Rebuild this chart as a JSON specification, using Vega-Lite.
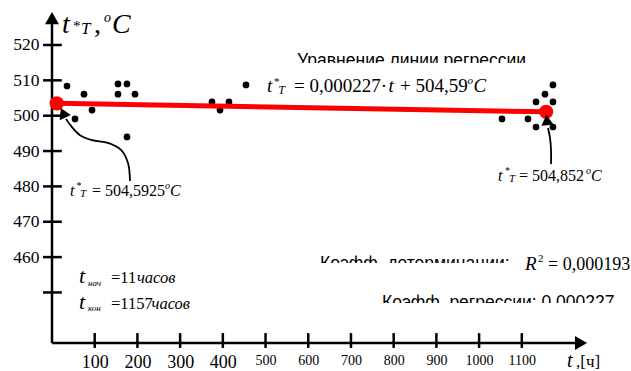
{
  "$schema": "https://vega.github.io/schema/vega-lite/v6.json",
  "width": 536,
  "height": 333,
  "autosize": {"type": "none"},
  "padding": {"left": 52, "top": 10, "right": 43, "bottom": 28},
  "background": "white",
  "config": {"view": {"stroke": null}, "text": {"font": "Liberation Serif"}},
  "data": {"values": [{}]},
  "layer": [
    {
      "data": {"name": "obs", "values": [
        {"t": 35.1, "temp": 508.4}, {"t": 53.9, "temp": 499.1}, {"t": 74.9, "temp": 506.1},
        {"t": 93.7, "temp": 501.6}, {"t": 154.5, "temp": 509.0}, {"t": 154.5, "temp": 506.1},
        {"t": 175.6, "temp": 509.0}, {"t": 175.6, "temp": 494.0}, {"t": 194.3, "temp": 506.1},
        {"t": 374.6, "temp": 503.9}, {"t": 393.4, "temp": 501.6}, {"t": 414.4, "temp": 503.9},
        {"t": 454.2, "temp": 508.7}, {"t": 1053.6, "temp": 499.1}, {"t": 1114.5, "temp": 499.1},
        {"t": 1133.3, "temp": 503.9}, {"t": 1133.3, "temp": 496.8}, {"t": 1154.3, "temp": 506.1},
        {"t": 1173.0, "temp": 508.7}, {"t": 1173.0, "temp": 503.9}, {"t": 1173.0, "temp": 496.8}
      ]},
      "mark": {"type": "circle", "color": "#000", "opacity": 1, "size": 45},
      "encoding": {
        "x": {"field": "t", "type": "quantitative",
          "scale": {"domain": [0, 1255], "nice": false, "zero": false},
          "axis": {"title": null, "values": [100, 200, 300, 400, 500, 600, 700, 800, 900, 1000, 1100], "format": "d",
            "domain": false, "ticks": false, "tickSize": 0, "grid": false,
            "labelFont": "Liberation Serif", "labelColor": "#000",
            "labelFontSize": {"condition": {"test": "datum.value <= 400", "value": 18}, "value": 14},
            "labelPadding": 10, "labelFlush": false, "labelOverlap": false, "labelBound": false}},
        "y": {"field": "temp", "type": "quantitative",
          "scale": {"domain": [435.7, 529.9], "nice": false, "zero": false},
          "axis": {"title": null, "values": [460, 470, 480, 490, 500, 510, 520], "format": "d",
            "domain": false, "ticks": false, "tickSize": 0, "grid": false,
            "labelFont": "Liberation Serif", "labelColor": "#000", "labelFontSize": 17.5,
            "labelPadding": 13, "labelFlush": false, "labelOverlap": false, "labelBound": false}}
      }
    },
    {"mark": {"type": "text", "align": "left", "baseline": "alphabetic", "font": "Liberation Sans", "fontSize": 17.5, "text": "Уравнение линии регрессии"},
     "encoding": {"x": {"datum": 573.6}, "y": {"datum": 514.2}}},
    {"mark": {"type": "text", "align": "left", "baseline": "alphabetic", "font": "Liberation Sans", "fontSize": 17.5, "text": "Коэфф. детерминации:"},
     "encoding": {"x": {"datum": 627.5}, "y": {"datum": 456.5}}},
    {"mark": {"type": "text", "align": "left", "baseline": "alphabetic", "font": "Liberation Sans", "fontSize": 17.5, "text": "Коэфф. регрессии: 0,000227"},
     "encoding": {"x": {"datum": 772.7}, "y": {"datum": 445.7}}},
    {"mark": {"type": "rect", "color": "white"},
     "encoding": {"x": {"datum": 557}, "x2": {"datum": 1117}, "y": {"datum": 514.9}, "y2": {"datum": 512.4}}},
    {"mark": {"type": "rect", "color": "white"},
     "encoding": {"x": {"datum": 608.8}, "x2": {"datum": 1077.4}, "y": {"datum": 458.3}, "y2": {"datum": 455.5}}},
    {"mark": {"type": "rect", "color": "white"},
     "encoding": {"x": {"datum": 756.3}, "x2": {"datum": 1355.7}, "y": {"datum": 447.0}, "y2": {"datum": 444.2}}},
    {"mark": {"type": "rule", "color": "#000", "strokeWidth": 2.5},
     "encoding": {"x": {"datum": 0}, "x2": {"datum": 1225}, "y": {"datum": 435.7}}},
    {"mark": {"type": "rule", "color": "#000", "strokeWidth": 2.5},
     "encoding": {"x": {"datum": 0}, "y": {"datum": 435.7}, "y2": {"datum": 526}}},
    {"data": {"values": [{"v": 450}, {"v": 460}, {"v": 470}, {"v": 480}, {"v": 490}, {"v": 500}, {"v": 510}, {"v": 520}]},
     "mark": {"type": "rule", "color": "#000", "strokeWidth": 2.5},
     "encoding": {"y": {"field": "v", "type": "quantitative"}, "x": {"datum": -21}, "x2": {"datum": 23}}},
    {"data": {"values": [{"v": 100}, {"v": 200}, {"v": 300}, {"v": 400}, {"v": 500}, {"v": 600}, {"v": 700}, {"v": 800}, {"v": 900}, {"v": 1000}, {"v": 1100}]},
     "mark": {"type": "rule", "color": "#000", "strokeWidth": 2.5},
     "encoding": {"x": {"field": "v", "type": "quantitative"}, "y": {"datum": 438.5}, "y2": {"datum": 434.3}}},
    {"mark": {"type": "point", "shape": "triangle-up", "filled": true, "color": "#000", "opacity": 1, "size": 196},
     "encoding": {"x": {"datum": 0}, "y": {"datum": 527.6}}},
    {"mark": {"type": "point", "shape": "triangle-right", "filled": true, "color": "#000", "opacity": 1, "size": 196},
     "encoding": {"x": {"datum": 1238.6}, "y": {"datum": 435.7}}},
    {"data": {"values": [{"t": 11, "temp": 503.5}, {"t": 1157, "temp": 501.1}]},
     "mark": {"type": "line", "color": "#ff0000", "strokeWidth": 5},
     "encoding": {"x": {"field": "t", "type": "quantitative"}, "y": {"field": "temp", "type": "quantitative"}}},
    {"data": {"values": [{"t": 11, "temp": 503.5}, {"t": 1157, "temp": 501.1}]},
     "mark": {"type": "circle", "color": "#ff0000", "opacity": 1, "size": 205},
     "encoding": {"x": {"field": "t", "type": "quantitative"}, "y": {"field": "temp", "type": "quantitative"}}},
    {"data": {"values": [
        {"o": 1, "t": 182.6, "temp": 481.5}, {"o": 2, "t": 178.0, "temp": 486.6}, {"o": 3, "t": 161.6, "temp": 490.3},
        {"o": 4, "t": 131.1, "temp": 492.3}, {"o": 5, "t": 93.7, "temp": 493.1}, {"o": 6, "t": 65.6, "temp": 494.5},
        {"o": 7, "t": 44.5, "temp": 497.1}, {"o": 8, "t": 32.8, "temp": 499.1}]},
     "mark": {"type": "line", "color": "#000", "strokeWidth": 1.8, "interpolate": "catmull-rom"},
     "encoding": {"x": {"field": "t", "type": "quantitative"}, "y": {"field": "temp", "type": "quantitative"}, "order": {"field": "o"}}},
    {"data": {"values": [
        {"o": 1, "t": 1168.4, "temp": 486.3}, {"o": 2, "t": 1168.4, "temp": 490.3}, {"o": 3, "t": 1166.0, "temp": 493.7},
        {"o": 4, "t": 1161.3, "temp": 496.5}]},
     "mark": {"type": "line", "color": "#000", "strokeWidth": 1.8, "interpolate": "catmull-rom"},
     "encoding": {"x": {"field": "t", "type": "quantitative"}, "y": {"field": "temp", "type": "quantitative"}, "order": {"field": "o"}}},
    {"mark": {"type": "point", "shape": "triangle-up", "filled": true, "color": "#000", "opacity": 1, "size": 150, "angle": -25},
     "encoding": {"x": {"datum": 25.8}, "y": {"datum": 500.8}}},
    {"mark": {"type": "point", "shape": "triangle-up", "filled": true, "color": "#000", "opacity": 1, "size": 150, "angle": -5},
     "encoding": {"x": {"datum": 1159}, "y": {"datum": 498.8}}},

    {"mark": {"type": "text", "align": "left", "baseline": "alphabetic", "fontSize": 28, "fontStyle": "italic", "text": "t"},
     "encoding": {"x": {"datum": 23.4}, "y": {"datum": 523.4}}},
    {"mark": {"type": "text", "align": "left", "baseline": "alphabetic", "fontSize": 15, "text": "*"},
     "encoding": {"x": {"datum": 49.2}, "y": {"datum": 524.0}}},
    {"mark": {"type": "text", "align": "left", "baseline": "alphabetic", "fontSize": 17, "fontStyle": "italic", "text": "T"},
     "encoding": {"x": {"datum": 67.9}, "y": {"datum": 523.1}}},
    {"mark": {"type": "text", "align": "left", "baseline": "alphabetic", "fontSize": 28, "text": ","},
     "encoding": {"x": {"datum": 98.3}, "y": {"datum": 523.4}}},
    {"mark": {"type": "text", "align": "left", "baseline": "alphabetic", "fontSize": 14, "fontStyle": "italic", "text": "o"},
     "encoding": {"x": {"datum": 121.8}, "y": {"datum": 526.5}}},
    {"mark": {"type": "text", "align": "left", "baseline": "alphabetic", "fontSize": 28, "fontStyle": "italic", "text": "C"},
     "encoding": {"x": {"datum": 140.5}, "y": {"datum": 523.4}}},

    {"mark": {"type": "text", "align": "left", "baseline": "alphabetic", "fontSize": 19, "fontStyle": "italic", "text": "t"},
     "encoding": {"x": {"datum": 503.4}, "y": {"datum": 506.7}}},
    {"mark": {"type": "text", "align": "left", "baseline": "alphabetic", "fontSize": 11, "text": "*"},
     "encoding": {"x": {"datum": 519.8}, "y": {"datum": 508.7}}},
    {"mark": {"type": "text", "align": "left", "baseline": "alphabetic", "fontSize": 12, "fontStyle": "italic", "text": "T"},
     "encoding": {"x": {"datum": 529.5}, "y": {"datum": 506.1}}},
    {"mark": {"type": "text", "align": "left", "baseline": "alphabetic", "fontSize": 19, "text": "= 0,000227·"},
     "encoding": {"x": {"datum": 566.6}, "y": {"datum": 506.7}}},
    {"mark": {"type": "text", "align": "left", "baseline": "alphabetic", "fontSize": 19, "fontStyle": "italic", "text": "t"},
     "encoding": {"x": {"datum": 788.0}, "y": {"datum": 506.7}}},
    {"mark": {"type": "text", "align": "left", "baseline": "alphabetic", "fontSize": 19, "text": "+ 504,59"},
     "encoding": {"x": {"datum": 814.8}, "y": {"datum": 506.7}}},
    {"mark": {"type": "text", "align": "left", "baseline": "alphabetic", "fontSize": 11, "fontStyle": "italic", "text": "o"},
     "encoding": {"x": {"datum": 973.0}, "y": {"datum": 509.0}}},
    {"mark": {"type": "text", "align": "left", "baseline": "alphabetic", "fontSize": 19, "fontStyle": "italic", "text": "C"},
     "encoding": {"x": {"datum": 987.0}, "y": {"datum": 506.7}}},

    {"mark": {"type": "text", "align": "left", "baseline": "alphabetic", "fontSize": 16, "fontStyle": "italic", "text": "t"},
     "encoding": {"x": {"datum": 42.1}, "y": {"datum": 477.3}}},
    {"mark": {"type": "text", "align": "left", "baseline": "alphabetic", "fontSize": 10, "text": "*"},
     "encoding": {"x": {"datum": 57.4}, "y": {"datum": 479.2}}},
    {"mark": {"type": "text", "align": "left", "baseline": "alphabetic", "fontSize": 11, "fontStyle": "italic", "text": "T"},
     "encoding": {"x": {"datum": 65.6}, "y": {"datum": 477.0}}},
    {"mark": {"type": "text", "align": "left", "baseline": "alphabetic", "fontSize": 16, "text": "= 504,5925"},
     "encoding": {"x": {"datum": 93.7}, "y": {"datum": 477.3}}},
    {"mark": {"type": "text", "align": "left", "baseline": "alphabetic", "fontSize": 10, "fontStyle": "italic", "text": "o"},
     "encoding": {"x": {"datum": 264.6}, "y": {"datum": 479.2}}},
    {"mark": {"type": "text", "align": "left", "baseline": "alphabetic", "fontSize": 16, "fontStyle": "italic", "text": "C"},
     "encoding": {"x": {"datum": 276.3}, "y": {"datum": 477.3}}},

    {"mark": {"type": "text", "align": "left", "baseline": "alphabetic", "fontSize": 16, "fontStyle": "italic", "text": "t"},
     "encoding": {"x": {"datum": 1044.3}, "y": {"datum": 481.5}}},
    {"mark": {"type": "text", "align": "left", "baseline": "alphabetic", "fontSize": 10, "text": "*"},
     "encoding": {"x": {"datum": 1060.7}, "y": {"datum": 483.5}}},
    {"mark": {"type": "text", "align": "left", "baseline": "alphabetic", "fontSize": 11, "fontStyle": "italic", "text": "T"},
     "encoding": {"x": {"datum": 1070.0}, "y": {"datum": 481.2}}},
    {"mark": {"type": "text", "align": "left", "baseline": "alphabetic", "fontSize": 16, "text": "= 504,852"},
     "encoding": {"x": {"datum": 1093.4}, "y": {"datum": 481.5}}},
    {"mark": {"type": "text", "align": "left", "baseline": "alphabetic", "fontSize": 10, "fontStyle": "italic", "text": "o"},
     "encoding": {"x": {"datum": 1250.2}, "y": {"datum": 483.5}}},
    {"mark": {"type": "text", "align": "left", "baseline": "alphabetic", "fontSize": 16, "fontStyle": "italic", "text": "C"},
     "encoding": {"x": {"datum": 1262.0}, "y": {"datum": 481.5}}},

    {"mark": {"type": "text", "align": "left", "baseline": "alphabetic", "fontSize": 22, "fontStyle": "italic", "text": "t"},
     "encoding": {"x": {"datum": 63.2}, "y": {"datum": 452.7}}},
    {"mark": {"type": "text", "align": "left", "baseline": "alphabetic", "fontSize": 9, "fontStyle": "italic", "text": "нач"},
     "encoding": {"x": {"datum": 84.3}, "y": {"datum": 451.8}}},
    {"mark": {"type": "text", "align": "left", "baseline": "alphabetic", "fontSize": 16.5, "text": "=11"},
     "encoding": {"x": {"datum": 138.1}, "y": {"datum": 452.7}}},
    {"mark": {"type": "text", "align": "left", "baseline": "alphabetic", "fontSize": 16.5, "fontStyle": "italic", "text": "часов"},
     "encoding": {"x": {"datum": 199.0}, "y": {"datum": 452.7}}},
    {"mark": {"type": "text", "align": "left", "baseline": "alphabetic", "fontSize": 22, "fontStyle": "italic", "text": "t"},
     "encoding": {"x": {"datum": 63.2}, "y": {"datum": 445.3}}},
    {"mark": {"type": "text", "align": "left", "baseline": "alphabetic", "fontSize": 9, "fontStyle": "italic", "text": "кон"},
     "encoding": {"x": {"datum": 84.3}, "y": {"datum": 444.8}}},
    {"mark": {"type": "text", "align": "left", "baseline": "alphabetic", "fontSize": 16.5, "text": "=1157"},
     "encoding": {"x": {"datum": 138.1}, "y": {"datum": 445.3}}},
    {"mark": {"type": "text", "align": "left", "baseline": "alphabetic", "fontSize": 16.5, "fontStyle": "italic", "text": "часов"},
     "encoding": {"x": {"datum": 233.0}, "y": {"datum": 445.3}}},

    {"mark": {"type": "text", "align": "left", "baseline": "alphabetic", "fontSize": 19, "fontStyle": "italic", "text": "R"},
     "encoding": {"x": {"datum": 1107.5}, "y": {"datum": 456.4}}},
    {"mark": {"type": "text", "align": "left", "baseline": "alphabetic", "fontSize": 11, "text": "2"},
     "encoding": {"x": {"datum": 1138.0}, "y": {"datum": 458.6}}},
    {"mark": {"type": "text", "align": "left", "baseline": "alphabetic", "fontSize": 18, "text": "= 0,000193"},
     "encoding": {"x": {"datum": 1161.3}, "y": {"datum": 456.4}}},

    {"mark": {"type": "text", "align": "left", "baseline": "alphabetic", "fontSize": 20, "fontStyle": "italic", "text": "t"},
     "encoding": {"x": {"datum": 1205.8}, "y": {"datum": 428.9}}},
    {"mark": {"type": "text", "align": "left", "baseline": "alphabetic", "fontSize": 17, "text": ",[ч]"},
     "encoding": {"x": {"datum": 1226.9}, "y": {"datum": 428.9}}}
  ]
}
